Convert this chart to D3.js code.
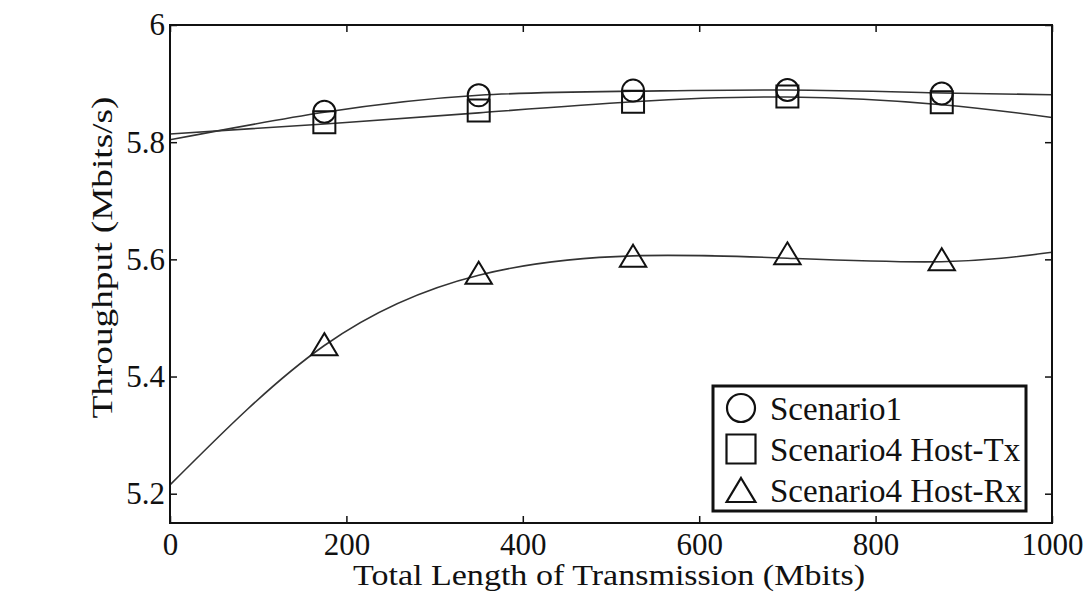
<!DOCTYPE html>
<html>
<head>
<meta charset="utf-8">
<script src="https://cdn.jsdelivr.net/npm/d3@7"></script>
<style>
  html, body { margin: 0; padding: 0; background: #fff; }
  svg { display: block; }
  text { font-family: "Liberation Serif", "DejaVu Serif", serif; fill: #111; }
</style>
</head>
<body>
<svg id="chart" width="1088" height="594"></svg>
<script>
// ---- data ----
const markerX = [175, 350, 525, 700, 875];
const scenario1Points = [5.852, 5.880, 5.888, 5.889, 5.883];
const hostTxPoints   = [5.834, 5.854, 5.869, 5.878, 5.868];
const hostRxPoints   = [5.457, 5.579, 5.608, 5.612, 5.602];

// fitted curves
const curveX = [0, 175, 350, 525, 700, 875, 1000];
const scenario1CurveY = [5.804, 5.851, 5.880, 5.887, 5.889, 5.884, 5.881];
const hostTxCurveY    = [5.814, 5.831, 5.850, 5.869, 5.877, 5.864, 5.842];
const hostRxCurveY    = [5.215, 5.453, 5.573, 5.606, 5.602, 5.596, 5.612];

const seriesNames = ["Scenario1", "Scenario4 Host-Tx", "Scenario4 Host-Rx"];
const xTicks = [0, 200, 400, 600, 800, 1000];
const yTicks = [5.2, 5.4, 5.6, 5.8, 6];
const xLabel = "Total Length of Transmission (Mbits)";
const yLabel = "Throughput (Mbits/s)";

// ---- layout ----
const svg = d3.select("#chart");
const L = 170, R = 1052, T = 25, B = 523;
const x = d3.scaleLinear().domain([0, 1000]).range([L, R]);
const y = d3.scaleLinear().domain([5.15, 6]).range([B, T]);

const ink = "#111";

// curves
const line = d3.line().x(d => x(d[0])).y(d => y(d[1])).curve(d3.curveNatural);
const curves = [
  d3.zip(curveX, scenario1CurveY),
  d3.zip(curveX, hostTxCurveY),
  d3.zip(curveX, hostRxCurveY)
];
svg.append("g").selectAll("path").data(curves).join("path")
  .attr("d", line).attr("fill", "none").attr("stroke", "#333").attr("stroke-width", 1.6);

// markers
function markerPath(kind, size) {
  if (kind === 0) { const r = size / 2; return `M${-r},0a${r},${r} 0 1,0 ${2*r},0a${r},${r} 0 1,0 ${-2*r},0Z`; }
  if (kind === 1) { const h = size / 2; return `M${-h},${-h}H${h}V${h}H${-h}Z`; }
  const w = size * 0.6, hh = size * 0.5;
  return `M0,${-hh}L${w},${hh}L${-w},${hh}Z`;
}
const pointSets = [scenario1Points, hostTxPoints, hostRxPoints];
pointSets.forEach((vals, k) => {
  svg.append("g").selectAll("path").data(vals).join("path")
    .attr("transform", (d, i) => `translate(${x(markerX[i])},${y(d) + (k === 2 ? 1 : 0)})`)
    .attr("d", markerPath(k, 22))
    .attr("fill", "none").attr("stroke", ink).attr("stroke-width", 2);
});

// axes frame
const gx = svg.append("g").attr("transform", `translate(0,${B})`)
  .call(d3.axisBottom(x).tickValues(xTicks).tickSize(-7).tickPadding(10).tickFormat(d3.format("d")));
const gxt = svg.append("g").attr("transform", `translate(0,${T})`)
  .call(d3.axisTop(x).tickValues(xTicks).tickSize(-7).tickFormat(""));
const gy = svg.append("g").attr("transform", `translate(${L},0)`)
  .call(d3.axisLeft(y).tickValues(yTicks).tickSize(-7).tickPadding(5).tickFormat(d => d === 6 ? "6" : d3.format(".1f")(d)));
const gyr = svg.append("g").attr("transform", `translate(${R},0)`)
  .call(d3.axisRight(y).tickValues(yTicks).tickSize(-7).tickFormat(""));
[gx, gxt, gy, gyr].forEach(g => {
  g.select(".domain").remove();
  g.selectAll(".tick line").attr("stroke", ink).attr("stroke-width", 1.5);
  g.selectAll(".tick text").attr("font-size", 31).attr("font-family", "Liberation Serif").attr("fill", ink);
});
gx.selectAll(".tick text").attr("dy", "0.71em");
svg.append("rect").attr("x", L).attr("y", T).attr("width", R - L).attr("height", B - T)
  .attr("fill", "none").attr("stroke", ink).attr("stroke-width", 2);

// axis labels
svg.append("text").attr("x", (353 + 865) / 2).attr("y", 585)
  .attr("text-anchor", "middle").attr("font-size", 29)
  .attr("textLength", 512).attr("lengthAdjust", "spacingAndGlyphs").text(xLabel);
svg.append("text").attr("transform", `translate(112,${(95 + 420) / 2}) rotate(-90)`)
  .attr("text-anchor", "middle").attr("font-size", 30)
  .attr("textLength", 322).attr("lengthAdjust", "spacingAndGlyphs").text(yLabel);

// legend
const lg = svg.append("g");
lg.append("rect").attr("x", 713).attr("y", 386).attr("width", 313).attr("height", 125)
  .attr("fill", "#fff").attr("stroke", ink).attr("stroke-width", 3);
const rowY = [408, 449, 490];
seriesNames.forEach((name, k) => {
  lg.append("path").attr("transform", `translate(741,${rowY[k]})`)
    .attr("d", k === 0 ? markerPath(0, 28) : k === 1 ? markerPath(1, 29) : markerPath(2, 24))
    .attr("fill", "none").attr("stroke", ink).attr("stroke-width", 2.2);
  lg.append("text").attr("x", 770).attr("y", rowY[k]).attr("dy", "0.35em")
    .attr("font-size", 33).text(name);
});
</script>
</body>
</html>
